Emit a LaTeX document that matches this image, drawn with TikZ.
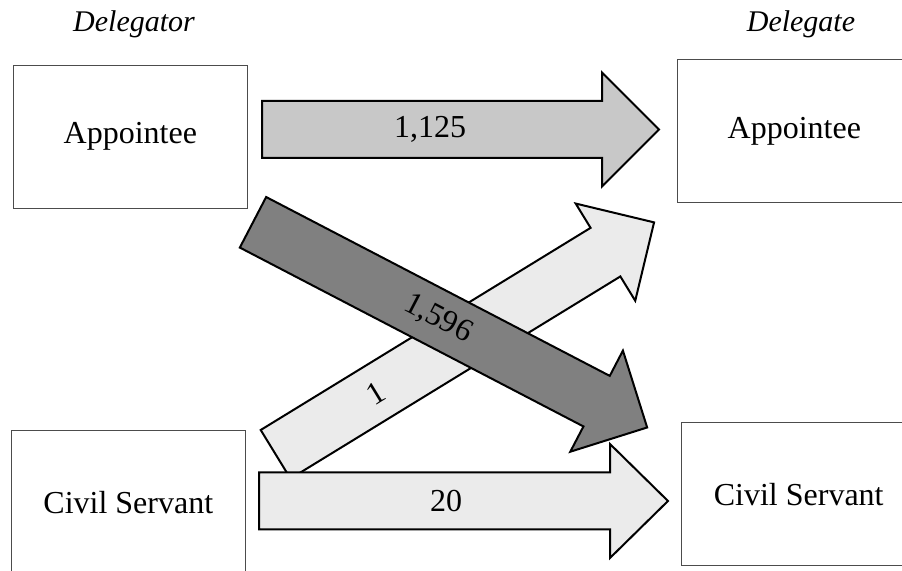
\documentclass[tikz,border=0pt]{standalone}
\usepackage{fontspec}
\setmainfont{Liberation Serif}
\usepackage{tikz}
\tikzset{boxed/.style={draw=black!70, line width=0.6pt, minimum width=117pt, minimum height=71.5pt, inner sep=0pt, font=\fontsize{16}{19}\selectfont}}
\tikzset{heading/.style={font=\fontsize{15}{18}\selectfont\itshape, anchor=base}}
\tikzset{blockarrow/.style={draw=black, line width=1pt, line join=miter}}
\tikzset{arrowlabel/.style={font=\fontsize{16}{19}\selectfont, inner sep=0pt}}
\definecolor{midfill}{RGB}{200,200,200}
\definecolor{darkfill}{RGB}{128,128,128}
\definecolor{lightfill}{RGB}{235,235,235}

\begin{document}
\begin{tikzpicture}[x=0.5pt, y=-0.5pt]
	\clip (0,0) rectangle (902,571);
	\fill[white] (0,0) rectangle (902,571);

	% Headings
	\node[heading] (delegator) at (134,31.7) {Delegator};
	\node[heading] (delegate) at (801,31.7) {Delegate};

	% LHS
	\node[boxed] (ap left) at (130.3,136.7) {Appointee};
	\node[boxed] (cs left) at (128.3,502.2) {Civil Servant};

	% RHS
	\node[boxed] (ap right) at (794.3,131.3) {Appointee};
	\node[boxed] (cs right) at (798.7,494.3) {Civil Servant};

	% Civil Servant -> Appointee
	\begin{scope}[shift={(275.6,454.3)}, rotate=31.5]
		\draw[blockarrow, fill=lightfill] (0,-28.5) -- (386.9,-28.5) -- (386.9,-57) -- (443.9,0) -- (386.9,57) -- (386.9,28.5) -- (0,28.5) -- cycle;
		\node[arrowlabel, rotate=31.5] (cs to ap) at (117.5,0) {1};
	\end{scope}

	% Appointee -> Appointee
	\begin{scope}[shift={(262,129.5)}]
		\draw[blockarrow, fill=midfill] (0,-28.5) -- (340,-28.5) -- (340,-57) -- (397,0) -- (340,57) -- (340,28.5) -- (0,28.5) -- cycle;
		\node[arrowlabel] (ap to ap) at (168,0) {1,125};
	\end{scope}

	% Appointee -> Civil Servant
	\begin{scope}[shift={(253,222.3)}, rotate=-27.5]
		\draw[blockarrow, fill=darkfill] (0,-28.5) -- (387.4,-28.5) -- (387.4,-57) -- (444.4,0) -- (387.4,57) -- (387.4,28.5) -- (0,28.5) -- cycle;
		\node[arrowlabel, rotate=-27.5] (ap to cs) at (208.7,0) {1,596};
	\end{scope}

	% Civil Servant -> Civil Servant
	\begin{scope}[shift={(259,501)}]
		\draw[blockarrow, fill=lightfill] (0,-28.5) -- (351,-28.5) -- (351,-57) -- (409,0) -- (351,57) -- (351,28.5) -- (0,28.5) -- cycle;
		\node[arrowlabel] (cs to cs) at (187,0) {20};
	\end{scope}
\end{tikzpicture}
\end{document}
